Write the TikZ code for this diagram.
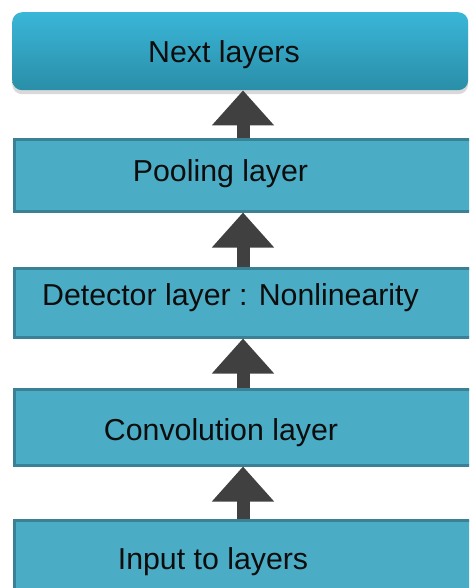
\documentclass[tikz,border=0pt]{standalone}
\usepackage{fontspec}
\setmainfont{Liberation Sans}
\usetikzlibrary{arrows.meta,shadows}
\definecolor{layerfill}{HTML}{4BACC6}
\definecolor{layerline}{HTML}{3A8196}
\definecolor{toptop}{HTML}{3AB6D8}
\definecolor{topbot}{HTML}{2A8EA8}
\definecolor{arrowgray}{HTML}{404040}
\tikzset{
  layer/.style={draw=layerline,fill=layerfill,line width=3pt,anchor=north west,
    minimum width=520pt,inner sep=0pt},
  nextbox/.style={rounded corners=10pt,top color=toptop,bottom color=topbot,anchor=north west,
    minimum width=456pt,minimum height=78pt,inner sep=0pt,
    drop shadow={shadow xshift=0pt,shadow yshift=-4pt,opacity=0.3}},
  txt/.style={anchor=base,font=\fontsize{30.3}{35}\selectfont,text=black!95},
  up/.style={arrowgray,line width=13pt,-{Triangle[length=35pt,width=60pt]}}
}
\begin{document}
\begin{tikzpicture}[x=1pt,y=-1pt]
\useasboundingbox (0,0) rectangle (469,588);
\clip (0,0) rectangle (469,588);
\coordinate (axis) at (243,0);
% stacked layers, bottom one runs off the page
\node[nextbox] (next) at (12,12) {};
\node[layer,minimum height=71pt] (pool) at (12.5,138.5) {};
\node[layer,minimum height=69pt] (detect) at (12.5,266.5) {};
\node[layer,minimum height=76pt] (conv) at (12.5,387.5) {};
\node[layer,minimum height=90pt] (input) at (12.5,518.5) {};
% labels
\node[txt] (tnext) at (224,63) {Next layers};
\node[txt] (tpool) at (220.5,181) {Pooling layer};
\node[txt] (tdetect) at (230.5,305) {Detector layer : Nonlinearity};
\node[txt] (tconv) at (221,440) {Convolution layer};
\node[txt] (tinput) at (213,569) {Input to layers};
% arrows going up
\draw[up] (pool.north -| axis) -- (next.south -| axis);
\draw[up] (detect.north -| axis) -- (pool.south -| axis);
\draw[up] (conv.north -| axis) -- (detect.south -| axis);
\draw[up] (input.north -| axis) -- (conv.south -| axis);
\end{tikzpicture}
\end{document}
